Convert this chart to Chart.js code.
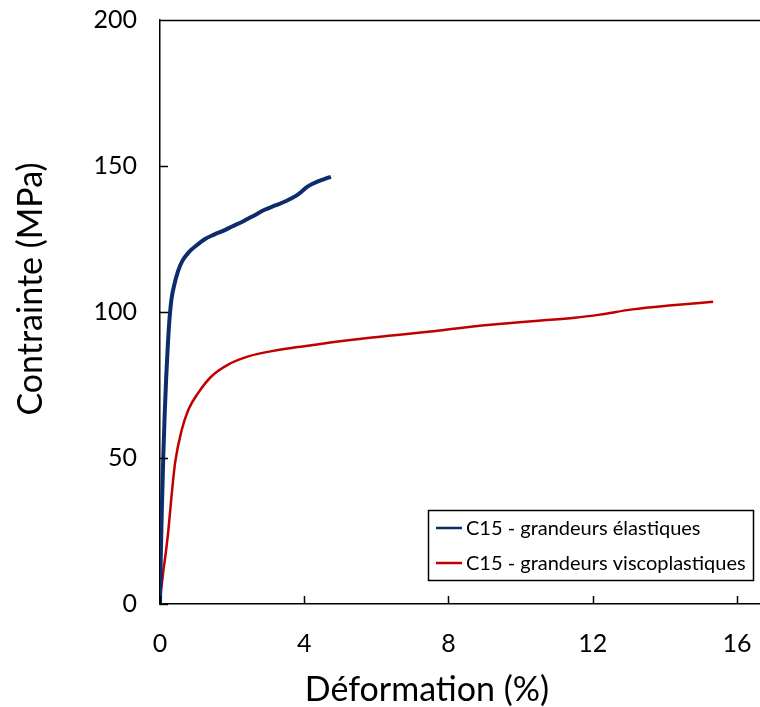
<!DOCTYPE html>
<html>
<head>
<meta charset="utf-8">
<script src="https://cdn.jsdelivr.net/npm/chart.js@4"></script>
<style>
  html, body { margin: 0; padding: 0; background: #fff; }
  #wrap { width: 760px; height: 707px; }
</style>
</head>
<body>
<div id="wrap"><canvas id="graph_area" width="760" height="707"></canvas></div>
<script>
// courbe C15 - grandeurs élastiques
var elasX = [0, 0.02, 0.05, 0.09, 0.13, 0.17, 0.21, 0.26, 0.32, 0.4, 0.5, 0.62, 0.8, 1.0, 1.25, 1.5, 1.75, 2.0, 2.3, 2.6, 2.9, 3.2, 3.5, 3.8, 4.1, 4.4, 4.74];
var elasY = [0, 15, 32, 50, 65, 77, 87, 97, 104.5, 109.5, 114, 117.5, 120.5, 122.7, 125.0, 126.5, 127.8, 129.3, 131.0, 133.0, 135.0, 136.5, 138.0, 140.0, 143.0, 144.8, 146.3];

// courbe C15 - grandeurs viscoplastiques
var viscoX = [0, 0.03, 0.1, 0.17, 0.23, 0.32, 0.42, 0.6, 0.79, 1.06, 1.43, 1.89, 2.45, 3.1, 4.0, 5.4, 6.5, 7.5, 8.5, 9.4, 10.5, 11.5, 12.2, 13.1, 14.2, 15.34];
var viscoY = [3.5, 5, 12, 18.5, 25, 37, 48.5, 59.5, 66.6, 72.3, 78, 82, 84.8, 86.6, 88.3, 90.6, 92, 93.3, 94.8, 95.9, 97, 98, 99.1, 100.9, 102.3, 103.5];

var seriesLabels = ["C15 - grandeurs élastiques", "C15 - grandeurs viscoplastiques"];
var seriesColors = ["#0d2c6c", "#c00000"];

var xTicks = [0, 4, 8, 12, 16];
var yTicks = [0, 50, 100, 150, 200];

var xTitle = 'Déformation (%)';
var yTitle = 'Contrainte (MPa)';

var FONT = "Lato, 'Open Sans', sans-serif";

toPoints = function (xs, ys) {
  var pts = [];
  for (var i = 0; i < xs.length; i++) pts.push({ x: xs[i], y: ys[i] });
  return pts;
}

// pas de marge automatique autour des axes
noPadding = function (scale) {
  scale.paddingTop = 0;
  scale.paddingBottom = 0;
  scale.paddingLeft = 0;
  scale.paddingRight = 0;
}

// petits traits vers l'intérieur + cadre du haut + titres + légende
var decorPlugin = {
  id: 'decor',
  afterDraw: function (chart) {
    var ctx = chart.ctx;
    var area = chart.chartArea;
    var sx = chart.scales.x, sy = chart.scales.y;
    ctx.save();
    ctx.strokeStyle = '#000';
    ctx.lineWidth = 1.5;
    ctx.beginPath();
    xTicks.forEach(function (v) {
      var px = Math.round(sx.getPixelForValue(v)) + 0.5;
      ctx.moveTo(px, area.bottom);
      ctx.lineTo(px, area.bottom - 8);
    });
    yTicks.forEach(function (v) {
      var py = Math.round(sy.getPixelForValue(v)) + 0.5;
      ctx.moveTo(area.left, py);
      ctx.lineTo(area.left + 8, py);
    });
    ctx.moveTo(area.left, area.top + 0.5);
    ctx.lineTo(chart.width, area.top + 0.5);
    ctx.stroke();

    // titres des axes
    ctx.fillStyle = '#000';
    ctx.font = '34px ' + FONT;
    ctx.textAlign = 'center';
    ctx.textBaseline = 'middle';
    ctx.fillText(xTitle, 427, 690);
    ctx.save();
    ctx.translate(31, 289);
    ctx.rotate(-Math.PI / 2);
    ctx.fillText(yTitle, 0, 0);
    ctx.restore();

    // légende
    var bx = 428, by = 510, bw = 325, bh = 70;
    ctx.lineWidth = 1.5;
    ctx.strokeStyle = '#000';
    ctx.strokeRect(bx + 0.5, by + 0.5, bw, bh);
    ctx.font = '20px ' + FONT;
    ctx.textAlign = 'left';
    ctx.textBaseline = 'middle';
    chart.data.datasets.forEach(function (ds, i) {
      var ly = by + 18 + i * 35;
      ctx.strokeStyle = ds.borderColor;
      ctx.lineWidth = 2.5;
      ctx.beginPath();
      ctx.moveTo(bx + 8, ly);
      ctx.lineTo(bx + 34, ly);
      ctx.stroke();
      ctx.fillStyle = '#000';
      ctx.fillText(ds.label, bx + 38, ly + 1);
    });
    ctx.restore();
  }
};

const ctx = document.getElementById("graph_area").getContext('2d');
new Chart(ctx, {
  type: 'scatter',
  data: {
    datasets: [{
      label: seriesLabels[0],
      data: toPoints(elasX, elasY),
      showLine: true,
      borderColor: seriesColors[0],
      borderWidth: 4,
      pointRadius: 0,
      cubicInterpolationMode: 'monotone'
    }, {
      label: seriesLabels[1],
      data: toPoints(viscoX, viscoY),
      showLine: true,
      borderColor: seriesColors[1],
      borderWidth: 2.5,
      pointRadius: 0,
      cubicInterpolationMode: 'monotone'
    }]
  },
  options: {
    responsive: false,
    animation: false,
    layout: { padding: { top: 20, right: 0, left: 0, bottom: 0 } },
    plugins: {
      legend: { display: false },
      tooltip: { enabled: false }
    },
    scales: {
      x: {
        type: 'linear',
        min: 0,
        max: 16.64,
        afterBuildTicks: function (scale) {
          scale.ticks = xTicks.map(function (v) { return { value: v }; });
        },
        afterFit: function (scale) { scale.height = 103; noPadding(scale); },
        grid: { display: false, drawTicks: false },
        border: { display: true, color: '#000', width: 1.5 },
        ticks: { color: '#000', padding: 25, font: { size: 25, family: FONT } },
        title: { display: false }
      },
      y: {
        type: 'linear',
        min: 0,
        max: 200,
        afterBuildTicks: function (scale) {
          scale.ticks = yTicks.map(function (v) { return { value: v }; });
        },
        afterFit: function (scale) { scale.width = 160; noPadding(scale); },
        grid: { display: false, drawTicks: false },
        border: { display: true, color: '#000', width: 1.5 },
        ticks: { color: '#000', padding: 23, font: { size: 25, family: FONT } },
        title: { display: false }
      }
    }
  },
  plugins: [decorPlugin]
});
</script>
</body>
</html>
